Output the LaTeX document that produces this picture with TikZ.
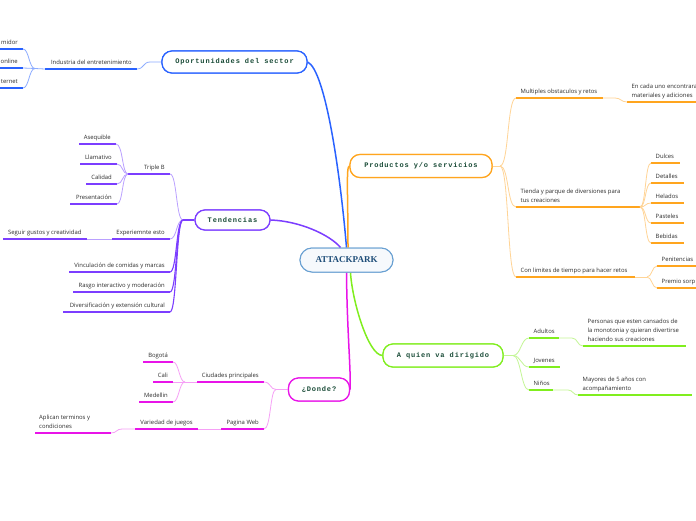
\documentclass[tikz,border=0pt]{standalone}
\usepackage{fontspec}
\setmainfont{Open Sans}
\newfontfamily\topicfont[LetterSpace=12]{Liberation Mono}
\newfontfamily\centerfont{Liberation Serif}
\usetikzlibrary{calc}
\definecolor{bl}{RGB}{41,98,255}
\definecolor{bll}{RGB}{140,172,255}
\definecolor{pu}{RGB}{124,62,255}
\definecolor{pul}{RGB}{186,160,255}
\definecolor{or}{RGB}{255,165,30}
\definecolor{orl}{RGB}{255,212,150}
\definecolor{gr}{RGB}{128,238,30}
\definecolor{grl}{RGB}{196,246,150}
\definecolor{mg}{RGB}{232,20,232}
\definecolor{mgl}{RGB}{246,160,246}
\definecolor{cenb}{RGB}{105,160,210}
\definecolor{cent}{RGB}{31,78,121}
\definecolor{toptxt}{RGB}{25,75,55}
\definecolor{txtgray}{RGB}{45,45,45}
\tikzset{
  txt/.style={inner sep=0pt, text depth=0pt, font=\fontsize{5.9}{8.8}\selectfont, text=txtgray, align=left},
  ul/.style={line width=1.5pt},
  cn/.style={line width=0.8pt},
  mainc/.style={line width=1.5pt},
  topic/.style={draw, line width=1.2pt, rounded corners=10pt, fill=white, inner sep=0pt, text=toptxt, font=\topicfont\bfseries\fontsize{7}{8}\selectfont},
  cenbox/.style={draw=cenb, line width=1pt, rounded corners=12pt, fill=cenb!6, minimum width=93pt, minimum height=24pt, inner sep=0pt, text=cent, font=\centerfont\bfseries\fontsize{9}{11}\selectfont},
}
\newcommand\mmL[6]{%
  \coordinate (#1w) at (#2,#4); \coordinate (#1e) at (#3,#4);
  \draw[ul,#6] (#1w) -- (#1e);
  \node[txt,anchor=south east] (#1) at (#3-5,#4-4.5) {#5};}
\newcommand\mmR[6]{%
  \coordinate (#1w) at (#2,#4); \coordinate (#1e) at (#3,#4);
  \draw[ul,#6] (#1w) -- (#1e);
  \node[txt,anchor=south west] (#1) at (#2+4.5,#4-4.5) {#5};}
\begin{document}
\begin{tikzpicture}[x=1pt,y=-1pt]
\useasboundingbox (0,0) rectangle (696,520);
\fill[white] (0,0) rectangle (696,520);

% topic nodes (positions)
\path (346.5,260) node[cenbox] (cen) {ATTACKPARK};
\path (234.5,62) node[topic, draw=bl, minimum width=145pt, minimum height=22pt] (op) {Oportunidades del sector};
\path (232.5,220) node[topic, draw=pu, minimum width=75pt, minimum height=20pt] (tend) {Tendencias};
\path (421,166) node[topic, draw=or, minimum width=142pt, minimum height=23pt] (prod) {Productos y/o servicios};
\path (443,355.5) node[topic, draw=gr, minimum width=120pt, minimum height=23pt] (aq) {A quien va dirigido};
\path (319,389.5) node[topic, draw=mg, minimum width=61pt, minimum height=23pt] (don) {¿Donde?};

% ---- Oportunidades
\mmL{ind}{45}{137}{69}{Industria del entretenimiento}{bl}
\mmL{ca}{-5}{23}{49}{midor}{bl}
\mmL{cb}{-5}{23}{68}{online}{bl}
\mmL{cc}{-5}{23}{88}{ternet}{bl}
\draw[cn,bll] (op.west) -- (150,62) .. controls (143,62) and (144,69) .. (inde);
\draw[cn,bll] (indw) -- (35,68.5) coordinate (indj);
\draw[cn,bll] (indj) .. controls (29,68.5) and (29,49) .. (cae);
\draw[cn,bll] (indj) -- (cbe);
\draw[cn,bll] (indj) .. controls (29,68.5) and (29,88) .. (cce);

% ---- Tendencias
\mmL{tb}{128}{170}{174}{Triple B}{pu}
\mmL{as}{79}{116}{144}{Asequible}{pu}
\mmL{ll}{80}{117}{164}{Llamativo}{pu}
\mmL{cl}{86}{117}{184}{Calidad}{pu}
\mmL{pr}{70}{117}{204}{Presentación}{pu}
\mmL{ex}{112}{170}{239}{Experiemnte esto}{pu}
\coordinate (sgw) at (3,239); \coordinate (sge) at (87,239);
\draw[ul,pu] (sgw) -- (sge);
\node[txt,anchor=south west] (sg) at (8,234.5) {Seguir gustos y creatividad};
\mmL{vi}{69}{170}{272}{Vinculación de comidas y marcas}{pu}
\mmL{ra}{73}{170}{292}{Rasgo interactivo y moderación}{pu}
\mmL{di}{63}{170}{312}{Diversificación y extensión cultural}{pu}
\draw[cn,pul] (tend.west) -- (183,220) coordinate (tj);
\draw[cn,pul] (tj) .. controls (176,220) and (177,174) .. (tbe);
\draw[cn,pul] (tj) .. controls (176,220) and (177,239) .. (exe);
\draw[line width=1.1pt,pu] (tj) .. controls (176,220) and (177,272) .. (vie);
\draw[line width=1.1pt,pu] (tj) .. controls (176,220) and (177,292) .. (rae);
\draw[line width=1.1pt,pu] (tj) .. controls (176,220) and (177,312) .. (die);
\draw[line width=1.3pt,pu] (tend.west) -- (tj);
\draw[cn,pul] (tbw) .. controls (122,174) and (123,144) .. (ase);
\draw[cn,pul] (tbw) .. controls (122,174) and (123,164) .. (lle);
\draw[cn,pul] (tbw) .. controls (122,174) and (123,184) .. (cle);
\draw[cn,pul] (tbw) .. controls (122,174) and (123,204) .. (pre);
\draw[cn,pul] (exw) -- (sge);

% ---- Productos
\mmR{mu}{516}{603}{98}{Multiples obstaculos y retos}{or}
\mmR{en}{627}{700}{102}{En cada uno encontrara\\materiales y adiciones}{or}
\mmR{ti}{516}{640}{207}{Tienda y parque de diversiones para\\tus creaciones}{or}
\mmR{du}{651}{680}{163}{Dulces}{or}
\mmR{de}{651}{684}{183}{Detalles}{or}
\mmR{he}{651}{684}{203}{Helados}{or}
\mmR{pa}{651}{684}{223}{Pasteles}{or}
\mmR{be}{651}{684}{243}{Bebidas}{or}
\mmR{co}{516}{635}{277}{Con limites de tiempo para hacer retos}{or}
\mmR{pe}{657}{700}{266}{Penitencias}{or}
\mmR{ps}{657}{700}{288}{Premio sorp}{or}
\draw[cn,orl] (prod.east) -- (500,166) coordinate (pj);
\draw[cn,orl] (pj) .. controls (509,166) and (507,98) .. (muw);
\draw[cn,orl] (pj) .. controls (509,166) and (507,207) .. (tiw);
\draw[cn,orl] (pj) .. controls (509,166) and (507,277) .. (cow);
\draw[cn,orl] (mue) -- (615,98) .. controls (621,98) and (621,102) .. (enw);
\draw[cn,orl] (tie) .. controls (646,207) and (645,163) .. (duw);
\draw[cn,orl] (tie) .. controls (646,207) and (645,183) .. (dew);
\draw[cn,orl] (tie) .. controls (646,207) and (645,203) .. (hew);
\draw[cn,orl] (tie) .. controls (646,207) and (645,223) .. (paw);
\draw[cn,orl] (tie) .. controls (646,207) and (645,243) .. (bew);
\draw[cn,orl] (coe) -- (647,277) coordinate (coj);
\draw[cn,orl] (coj) .. controls (652,277) and (652,266) .. (pew);
\draw[cn,orl] (coj) .. controls (652,277) and (652,288) .. (psw);

% ---- A quien
\mmR{ad}{529}{559}{338}{Adultos}{gr}
\mmR{pz}{583}{686}{346}{Personas que esten cansados de\\la monotonia y quieran divertirse\\haciendo sus creaciones}{gr}
\mmR{jo}{529}{560}{367}{Jovenes}{gr}
\mmR{ni}{529}{553}{390}{Niños}{gr}
\mmR{ma}{578}{692}{395}{Mayores de 5 años con\\acompañamiento}{gr}
\draw[cn,grl] (aq.east) -- (513,355.5) coordinate (aj);
\draw[cn,grl] (aj) .. controls (521,355.5) and (521,338) .. (adw);
\draw[cn,grl] (aj) .. controls (521,355.5) and (521,367) .. (jow);
\draw[cn,grl] (aj) .. controls (521,355.5) and (521,390) .. (niw);
\draw[cn,grl] (ade) -- (572,338) .. controls (578,338) and (577,346) .. (pzw);
\draw[cn,grl] (nie) -- (568,390) .. controls (573,390) and (573,395) .. (maw);

% ---- Donde
\mmL{ci}{197}{264}{382}{Ciudades principales}{mg}
\mmL{bo}{143}{173}{362}{Bogotá}{mg}
\mmL{cal}{153}{173}{382}{Cali}{mg}
\mmL{me}{139}{173}{402}{Medellin}{mg}
\mmL{pw}{221}{264}{429}{Pagina Web}{mg}
\mmL{va}{135}{198}{429}{Variedad de juegos}{mg}
\coordinate (apw) at (35,433); \coordinate (ape) at (111,433);
\draw[ul,mg] (apw) -- (ape);
\node[txt,anchor=south west] (ap) at (39,428.5) {Aplican terminos y\\condiciones};
\draw[cn,mgl] (don.west) -- (276,389.5) coordinate (dj);
\draw[cn,mgl] (dj) .. controls (270,389.5) and (271,382) .. (cie);
\draw[cn,mgl] (dj) .. controls (270,389.5) and (271,429) .. (pwe);
\draw[cn,mgl] (ciw) -- (185,382) coordinate (cj);
\draw[cn,mgl] (cj) .. controls (179,382) and (179,362) .. (boe);
\draw[cn,mgl] (cj) -- (cale);
\draw[cn,mgl] (cj) .. controls (179,382) and (179,402) .. (mee);
\draw[cn,mgl] (pww) -- (vae);
\draw[cn,mgl] (vaw) -- (122,429) .. controls (116,429) and (117,433) .. (ape);

% ---- main connectors
\draw[mainc,bl] (cen.north) .. controls (340,170) and (325,70) .. (op.east);
\draw[mainc,pu] (tend.east) .. controls (300,221) and (330,235) .. ([xshift=-6pt]cen.north);
\draw[mainc,or] ([xshift=1.5pt]cen.north) .. controls (348,195) and (346,166) .. (prod.west);
\draw[mainc,gr] ([xshift=4pt]cen.south) .. controls (352,300) and (368,355) .. (aq.west);
\draw[mainc,mg] (cen.south) .. controls (347,330) and (351,370) .. (don.east);

% redraw topic nodes on top
\path (346.5,260) node[cenbox] {ATTACKPARK};
\path (234.5,62) node[topic, draw=bl, minimum width=145pt, minimum height=22pt] {Oportunidades del sector};
\path (232.5,220) node[topic, draw=pu, minimum width=75pt, minimum height=20pt] {Tendencias};
\path (421,166) node[topic, draw=or, minimum width=142pt, minimum height=23pt] {Productos y/o servicios};
\path (443,355.5) node[topic, draw=gr, minimum width=120pt, minimum height=23pt] {A quien va dirigido};
\path (319,389.5) node[topic, draw=mg, minimum width=61pt, minimum height=23pt] {¿Donde?};
\end{tikzpicture}
\end{document}
